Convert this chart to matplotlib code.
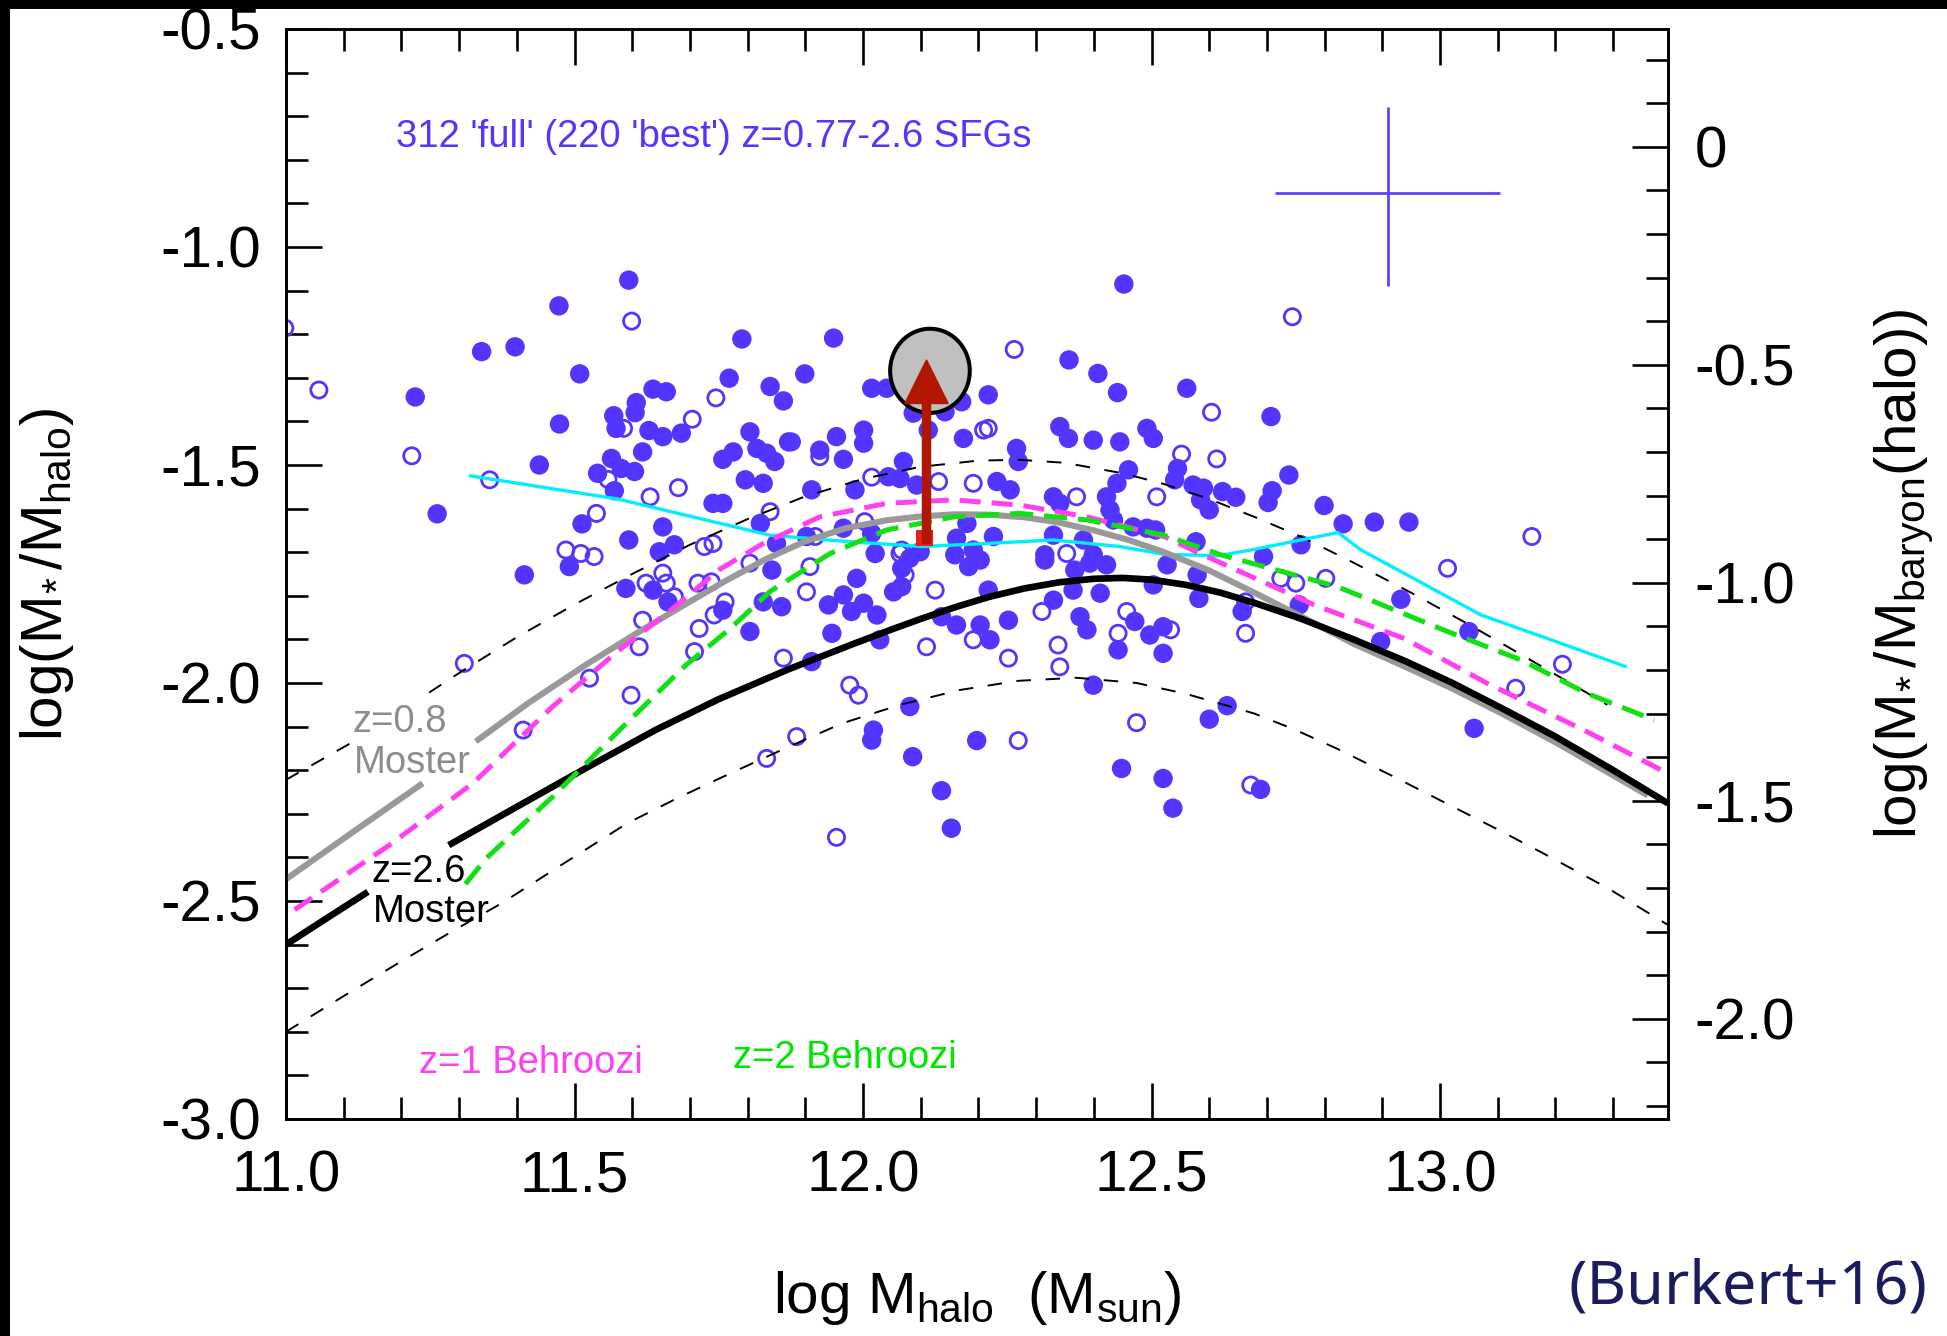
import numpy as np
import matplotlib
matplotlib.use("Agg")
import matplotlib.pyplot as plt
from matplotlib.patches import Ellipse, Rectangle
from matplotlib.ticker import MultipleLocator, FuncFormatter

plt.rcParams['font.family'] = ['Liberation Sans', 'DejaVu Sans']
plt.rcParams['mathtext.fontset'] = 'custom'
plt.rcParams['mathtext.rm'] = 'Liberation Sans'
plt.rcParams['mathtext.it'] = 'Liberation Sans:italic'
plt.rcParams['mathtext.bf'] = 'Liberation Sans:bold'
plt.rcParams['axes.unicode_minus'] = False

# --- model curves, NaN = gap under a label ---
moster26_x = [11.00, 11.07, 11.142, np.nan, 11.282, 11.40, 11.52, 11.64, 11.75, 11.87, 11.98,
              12.05, 12.10, 12.16, 12.22, 12.28, 12.34, 12.40, 12.45, 12.50, 12.56, 12.62,
              12.68, 12.76, 12.85, 12.94, 13.02, 13.11, 13.20, 13.30, 13.395]
moster26_y = [-2.600, -2.540, -2.479, np.nan, -2.372, -2.284, -2.195, -2.108, -2.037, -1.969,
              -1.912, -1.877, -1.853, -1.826, -1.802, -1.783, -1.769, -1.761, -1.759, -1.763,
              -1.775, -1.793, -1.817, -1.853, -1.900, -1.950, -1.999, -2.060, -2.123, -2.200,
              -2.276]

moster08_x = [11.00, 11.12, 11.237, np.nan, 11.329, 11.42, 11.52, 11.60, 11.68, 11.76, 11.83,
              11.90, 11.97, 12.04, 12.10, 12.16, 12.22, 12.28, 12.34, 12.40, 12.46, 12.52,
              12.60, 12.68, 12.76, 12.85, 12.94, 13.02, 13.11, 13.20, 13.30, 13.36]
moster08_y = [-2.450, -2.338, -2.230, np.nan, -2.134, -2.046, -1.958, -1.892, -1.829, -1.767,
              -1.717, -1.675, -1.645, -1.627, -1.618, -1.613, -1.614, -1.620, -1.632, -1.650,
              -1.672, -1.699, -1.742, -1.794, -1.848, -1.910, -1.963, -2.012, -2.072, -2.136,
              -2.212, -2.258]

upper_x = [11.00, 11.116, np.nan, 11.248, 11.306, 11.40, 11.50, 11.60, 11.70, 11.80, 11.90,
           12.00, 12.10, 12.20, 12.27, 12.35, 12.45, 12.52, 12.60, 12.68, 12.76, 12.85, 12.95,
           13.05, 13.15, 13.29]
upper_y = [-2.222, -2.135, np.nan, -2.022, -1.972, -1.895, -1.820, -1.750, -1.683, -1.624,
           -1.572, -1.532, -1.504, -1.490, -1.488, -1.495, -1.519, -1.543, -1.578, -1.620,
           -1.665, -1.724, -1.793, -1.866, -1.942, -2.050]

lower_x = [11.00, 11.10, 11.204, 11.29, 11.374, 11.48, 11.591, 11.68, 11.764, 11.865, 11.963,
           12.064, 12.168, 12.269, 12.370, 12.474, 12.56, 12.678, 12.75, 12.822, 12.92, 13.024,
           13.10, 13.175, 13.29, 13.395]
lower_y = [-2.800, -2.718, -2.635, -2.568, -2.505, -2.415, -2.322, -2.263, -2.211, -2.150,
           -2.093, -2.050, -2.016, -1.995, -1.988, -2.000, -2.025, -2.070, -2.108, -2.151,
           -2.215, -2.285, -2.336, -2.388, -2.470, -2.555]

behroozi1_x = [11.015, 11.179, 11.324, 11.462, 11.578, 11.664, 11.751, 11.827, 11.925, 12.041,
               12.157, 12.272, 12.388, 12.522, 12.579, 12.782, 12.938, 13.082, 13.255, 13.394]
behroozi1_y = [-2.520, -2.372, -2.230, -2.054, -1.924, -1.836, -1.740, -1.680, -1.619, -1.588,
               -1.580, -1.592, -1.619, -1.664, -1.700, -1.821, -1.898, -2.001, -2.112, -2.207]

behroozi2_x = [11.311, 11.347, 11.462, 11.578, 11.693, 11.770, 11.839, 11.943, 12.041, 12.157,
               12.272, 12.388, 12.522, 12.620, 12.822, 13.013, 13.140, 13.255, 13.371]
behroozi2_y = [-2.461, -2.402, -2.261, -2.108, -1.959, -1.875, -1.790, -1.703, -1.649, -1.619,
               -1.611, -1.626, -1.661, -1.706, -1.779, -1.882, -1.947, -2.024, -2.085]

cyan_x = [11.320, 11.575, 11.746, 11.839, 11.977, 12.102, 12.214, 12.330, 12.445, 12.522,
          12.616, 12.672, 12.823, 12.863, 13.071, 13.169, 13.321]
cyan_y = [-1.525, -1.578, -1.632, -1.661, -1.676, -1.687, -1.680, -1.672, -1.687, -1.705,
          -1.708, -1.695, -1.655, -1.695, -1.844, -1.890, -1.962]

# --- galaxies: filled = 'best', open = rest of 'full' ---
best_x = [11.594, 11.473, 11.339, 11.397, 11.509, 11.224, 11.636, 11.659, 11.607, 11.605, 11.474,
          11.568, 11.572, 11.629, 11.653, 11.685, 11.768, 11.618, 11.564, 11.581, 11.604, 11.540,
          11.569, 11.439, 11.757, 11.740, 11.757, 11.262, 11.513, 11.653, 11.594, 11.673, 11.647,
          11.413, 11.491, 11.589, 11.636, 11.662, 11.757,
          12.452, 11.790, 11.949, 12.357, 11.899, 11.839, 11.862, 12.407, 12.441, 12.015, 12.041,
          12.217, 12.171, 12.087, 12.142, 12.113, 12.174, 11.804, 11.871, 11.775, 11.816, 11.833,
          11.847, 11.925, 11.954, 11.966, 12.001, 12.001, 11.796, 11.827, 11.911, 12.044, 12.064,
          12.070, 11.986, 12.093, 12.232, 12.255, 12.266, 12.269, 12.341, 12.356, 12.399, 12.445,
          12.492, 12.503, 12.460, 12.440, 12.422, 12.330, 12.341, 12.428, 12.434, 11.822, 11.966,
          12.015, 12.180, 12.162, 12.226, 12.330, 12.382, 12.468, 12.492, 12.099, 12.191, 12.315,
          12.399, 11.902, 11.850,
          11.989, 11.966, 11.940, 11.980, 12.001, 12.024, 11.946, 12.029, 11.911, 11.804, 11.827,
          11.859, 11.842, 12.021, 12.081, 12.067, 12.053, 12.067, 12.159, 12.183, 12.203, 12.217,
          12.136, 12.162, 12.203, 12.220, 12.252, 12.315, 12.367, 12.364, 12.393, 12.422, 12.411,
          12.330, 12.376, 12.388, 12.471, 12.497, 12.442, 12.503, 12.520, 12.520, 12.399, 12.081,
          12.018, 12.015, 12.197, 12.086, 12.448, 12.520, 12.136, 12.153,
          12.561, 12.707, 12.545, 12.540, 12.572, 12.590, 12.585, 12.600, 12.623, 12.646, 12.738,
          12.709, 12.702, 12.799, 12.832, 12.886, 12.946, 12.759, 12.694, 12.577, 12.507,
          12.527, 12.579, 12.582, 12.657, 12.756, 12.932, 13.050, 12.897, 13.059, 12.631, 12.600,
          12.689, 12.537]
best_y = [-1.076, -1.135, -1.240, -1.229, -1.291, -1.344, -1.326, -1.332, -1.357, -1.380, -1.406,
          -1.387, -1.416, -1.421, -1.435, -1.427, -1.301, -1.470, -1.485, -1.508, -1.515, -1.519,
          -1.559, -1.500, -1.487, -1.588, -1.588, -1.612, -1.635, -1.642, -1.672, -1.683, -1.699,
          -1.752, -1.733, -1.783, -1.787, -1.814, -1.833,
          -1.085, -1.211, -1.209, -1.259, -1.291, -1.320, -1.353, -1.290, -1.334, -1.324, -1.324,
          -1.339, -1.355, -1.381, -1.378, -1.420, -1.439, -1.424, -1.447, -1.470, -1.462, -1.473,
          -1.492, -1.466, -1.435, -1.487, -1.420, -1.450, -1.534, -1.542, -1.557, -1.527, -1.531,
          -1.492, -1.557, -1.546, -1.538, -1.557, -1.462, -1.492, -1.412, -1.439, -1.443, -1.447,
          -1.416, -1.439, -1.511, -1.542, -1.573, -1.573, -1.588, -1.603, -1.626, -1.634, -1.645,
          -1.657, -1.634, -1.668, -1.664, -1.661, -1.672, -1.642, -1.645, -1.699, -1.695, -1.706,
          -1.706, -1.664, -1.680,
          -1.760, -1.798, -1.821, -1.836, -1.817, -1.844, -1.886, -1.901, -1.951, -1.882, -1.814,
          -1.825, -1.741, -1.703, -1.714, -1.737, -1.791, -1.779, -1.706, -1.733, -1.718, -1.787,
          -1.848, -1.867, -1.867, -1.901, -1.856, -1.718, -1.741, -1.787, -1.725, -1.729, -1.794,
          -1.810, -1.848, -1.878, -1.859, -1.890, -1.924, -1.775, -1.871, -1.932, -2.005, -2.054,
          -2.108, -2.131, -2.132, -2.169, -2.196, -2.219, -2.247, -2.333,
          -1.324, -1.389, -1.508, -1.534, -1.546, -1.553, -1.580, -1.603, -1.561, -1.574, -1.523,
          -1.559, -1.586, -1.593, -1.635, -1.631, -1.631, -1.683, -1.710, -1.676, -1.649,
          -1.729, -1.752, -1.806, -1.836, -1.821, -1.808, -1.882, -1.905, -2.104, -2.052, -2.083,
          -2.244, -2.287]

full_x = [10.998, 11.599, 11.057, 11.745, 11.585, 11.704, 11.218, 11.558, 11.353, 11.631, 11.680,
          11.538, 11.725, 11.740, 11.485, 11.511, 11.534,
          11.624, 11.653, 11.659, 11.673, 11.714, 11.737, 11.742, 11.618, 11.716, 11.612, 11.708,
          11.309, 11.526, 11.598, 11.411,
          12.262, 12.209, 12.217, 11.876, 11.925, 12.015, 12.131, 12.191, 12.370, 12.509, 11.839,
          11.917, 12.003, 12.067, 12.353,
          11.862, 11.804, 11.761, 11.908, 11.902, 12.064, 12.073, 12.125, 12.191, 12.110, 12.252,
          12.310, 12.457, 12.442, 12.338, 12.341, 11.977, 11.992, 11.885, 11.833, 12.269, 12.474,
          11.954,
          12.744, 12.604, 12.552, 12.613, 13.159,
          12.663, 12.724, 12.750, 12.802, 13.013, 12.533, 12.663, 13.131, 13.212, 12.672]
full_y = [-1.186, -1.170, -1.328, -1.346, -1.416, -1.395, -1.479, -1.533, -1.534, -1.573, -1.552,
          -1.611, -1.687, -1.680, -1.695, -1.703, -1.710,
          -1.771, -1.748, -1.771, -1.802, -1.771, -1.768, -1.844, -1.856, -1.875, -1.917, -1.928,
          -1.955, -1.989, -2.028, -2.108,
          -1.235, -1.420, -1.416, -1.447, -1.481, -1.528, -1.538, -1.542, -1.573, -1.573, -1.607,
          -1.664, -1.630, -1.695, -1.703,
          -1.943, -1.725, -1.814, -1.733, -1.791, -1.703, -1.752, -1.787, -1.901, -1.917, -1.943,
          -1.836, -1.836, -1.886, -1.913, -1.963, -2.005, -2.028, -2.123, -2.173, -2.132, -2.091,
          -2.354,
          -1.160, -1.379, -1.475, -1.486, -1.664,
          -1.814, -1.760, -1.771, -1.760, -1.737, -1.878, -1.886, -2.012, -1.957, -2.234]

# typical error bar
err_x, err_y = 12.909, -0.876
err_xerr, err_yerr = 0.195, [[0.213], [0.198]]

# stacked / average point with arrow
stack_x, stack_y = 12.116, -1.284
arrow_x, arrow_y0, arrow_y1 = 12.110, -1.680, -1.259

baryon_offset = 0.77   # log(M*/Mbaryon) = log(M*/Mhalo) + 0.77

dot_color = '#5236ff'
magenta = '#ff40f0'
green = '#12e012'

fig = plt.figure(figsize=(19.47, 13.36), dpi=100)
ax = fig.add_axes([0.14689, 0.16243, 0.70981, 0.81587])

ax.scatter(full_x, full_y, s=135, facecolors='none', edgecolors=dot_color, linewidths=2.0, zorder=2)
ax.scatter(best_x, best_y, s=195, color=dot_color, edgecolors='none', zorder=2)

ax.plot(upper_x, upper_y, color='black', lw=1.4, dashes=(7.5, 7.5), zorder=3)
ax.plot(lower_x, lower_y, color='black', lw=1.4, dashes=(7.5, 7.5), zorder=3)
ax.plot(cyan_x, cyan_y, color='#00eeff', lw=2.4, zorder=3.5)
ax.plot(moster08_x, moster08_y, color='#999999', lw=4.4, zorder=4, solid_capstyle='butt')
ax.plot(moster26_x, moster26_y, color='black', lw=4.8, zorder=4.5, solid_capstyle='butt')
ax.plot(behroozi1_x, behroozi1_y, color=magenta, lw=3.6, dashes=(4.2, 2.2), zorder=5)
ax.plot(behroozi2_x, behroozi2_y, color=green, lw=3.6, dashes=(4.6, 2.2), zorder=5.5)

ax.errorbar([err_x], [err_y], xerr=err_xerr, yerr=err_yerr, fmt='none',
            ecolor='#5a45ff', elinewidth=2.0, capsize=0, zorder=3)

ax.add_patch(Ellipse((stack_x, stack_y), 0.138, 0.193, facecolor='#c0c0c0',
                     edgecolor='black', lw=2.9, zorder=7))
ax.add_patch(Rectangle((12.092, -1.686), 0.030, 0.036, facecolor='#e8201a',
                       edgecolor='none', zorder=7.5))
ax.arrow(arrow_x, arrow_y0, 0, arrow_y1 - arrow_y0, width=0.014, head_width=0.075,
         head_length=0.10, length_includes_head=True, color='#b01600', zorder=8)

# texts
ax.text(11.19, -0.770, "312 'full' (220 'best') z=0.77-2.6 SFGs", color=dot_color,
        fontsize=27.5, ha='left', va='baseline')
ax.text(11.116, -2.112, 'z=0.8', color='#8c8c8c', fontsize=27.5, ha='left', va='baseline', zorder=6)
ax.text(11.118, -2.206, 'Moster', color='#8c8c8c', fontsize=27.5, ha='left', va='baseline', zorder=6)
ax.text(11.149, -2.456, 'z=2.6', color='black', fontsize=27.5, ha='left', va='baseline', zorder=6)
ax.text(11.150, -2.548, 'Moster', color='black', fontsize=27.5, ha='left', va='baseline', zorder=6)
ax.text(11.230, -2.894, 'z=1 Behroozi', color=magenta, fontsize=27.5, ha='left', va='baseline')
ax.text(11.774, -2.883, 'z=2 Behroozi', color='#00e600', fontsize=27.5, ha='left', va='baseline')

# axes
ax.set_xlim(11.0, 13.395)
ax.set_ylim(-3.0, -0.5)
ax.xaxis.set_major_locator(MultipleLocator(0.5))
ax.xaxis.set_minor_locator(MultipleLocator(0.1))
ax.yaxis.set_major_locator(MultipleLocator(0.5))
ax.yaxis.set_minor_locator(MultipleLocator(0.1))
ax.xaxis.set_major_formatter(FuncFormatter(lambda v, p: f'{v:.1f}'))
ax.yaxis.set_major_formatter(FuncFormatter(lambda v, p: f'{v:.1f}'))
ax.tick_params(which='both', direction='in', top=True, bottom=True, left=True, right=False,
               width=1.9, colors='black', labelsize=42)
ax.tick_params(which='major', length=26)
ax.tick_params(which='minor', length=16)
ax.tick_params(axis='x', pad=22)
ax.tick_params(axis='y', pad=18)
for sp in ax.spines.values():
    sp.set_linewidth(1.9)

ax2 = ax.twinx()
ax2.set_ylim(-3.0 + baryon_offset, -0.5 + baryon_offset)
ax2.yaxis.set_major_locator(MultipleLocator(0.5))
ax2.yaxis.set_minor_locator(MultipleLocator(0.1))
ax2.yaxis.set_major_formatter(FuncFormatter(lambda v, p: '0' if abs(v) < 1e-9 else f'{v:.1f}'))
ax2.tick_params(axis='y', which='both', direction='in', right=True, left=False, width=1.9,
                labelsize=42, pad=19)
ax2.tick_params(axis='y', which='major', length=26)
ax2.tick_params(axis='y', which='minor', length=16)
for sp in ax2.spines.values():
    sp.set_linewidth(1.9)

ax.set_xlabel(r'log M$_{\rm halo}$  (M$_{\rm sun}$)', fontsize=42, va='baseline')
ax.xaxis.set_label_coords(0.5, -0.178)
ax.set_ylabel(r'log(M$_{\!\rm *}$/M$_{\rm halo}$)', fontsize=42, va='baseline')
ax.yaxis.set_label_coords(-0.162, 0.5)
ax2.set_ylabel(r'log(M$_{\!\rm *}$/M$_{\rm baryon}$(halo))', fontsize=42, va='baseline', rotation=90)
ax2.yaxis.set_label_coords(1.1794, 0.5)

fig.text(0.990, 0.024, '(Burkert+16)', ha='right', va='baseline', fontsize=44,
         color='#1c1b5e', family=['Noto Sans', 'DejaVu Sans'])

# black frame edges of the slide
fig.patches.append(Rectangle((0, 1 - 9 / 1336), 1, 9 / 1336, transform=fig.transFigure,
                             facecolor='black', edgecolor='none'))
fig.patches.append(Rectangle((0, 0), 10 / 1947, 1, transform=fig.transFigure,
                             facecolor='black', edgecolor='none'))

fig.savefig('out.png', dpi=100)
